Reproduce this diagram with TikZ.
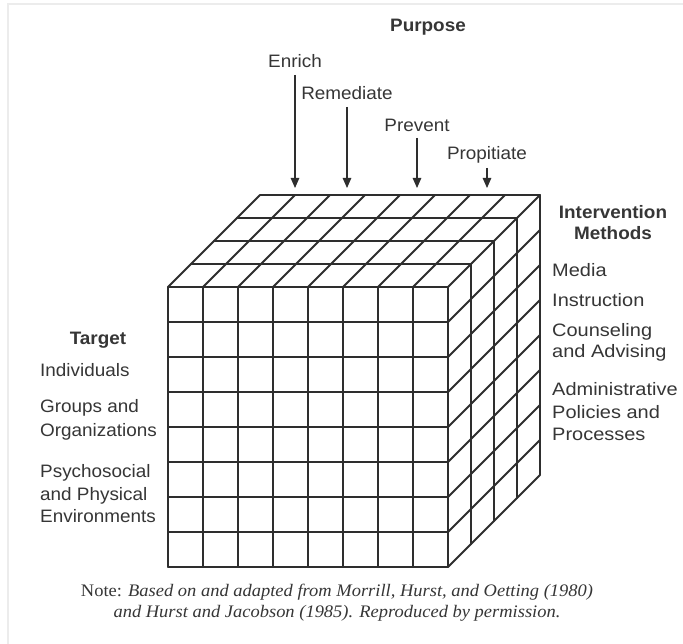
\documentclass[tikz,border=0pt]{standalone}
\usepackage{fontspec}
\setmainfont{Liberation Sans}[FakeStretch=1.05]
\newfontfamily\widesans{Liberation Sans}[FakeStretch=1.11]
\newfontfamily\notefont{Liberation Serif}[FakeStretch=1.05]
\usetikzlibrary{arrows.meta}
\definecolor{ink}{HTML}{2E2E2E}
\definecolor{txt}{HTML}{363636}
\definecolor{frame}{HTML}{ECECEC}
\tikzset{
  gridline/.style={draw=ink, line width=1.8pt, line cap=round, line join=round},
  lbl/.style={text=txt, font=\fontsize{18}{22.5}\selectfont, inner sep=1pt},
  lblL/.style={lbl, anchor=west, align=left},
  lblR/.style={lblL, font=\widesans\fontsize{18}{22}\selectfont},
  head/.style={lbl, font=\fontsize{18}{21}\selectfont\bfseries, align=center},
  purparrow/.style={draw=ink, line width=1.1pt, -{Triangle[length=10pt,width=8.5pt]}},
  notetext/.style={text=txt, font=\notefont\fontsize{17.6}{20.5}\selectfont, align=center, inner sep=0pt}
}
\begin{document}
\begin{tikzpicture}[x=1pt,y=-1pt]
\useasboundingbox (0,0) rectangle (683,644);
\fill[white] (0,0) rectangle (683,644);
% faint frame of the scan
\draw[frame, line width=2.5pt] (8,644) -- (8,4) -- (683,4);

% cube geometry
\def\cx{168}\def\cy{287}\def\cs{35}\def\dd{23}
% front face
\foreach \i in {0,...,8} {
  \draw[gridline] ({\cx+\cs*\i},\cy) -- ({\cx+\cs*\i},{\cy+8*\cs});
  \draw[gridline] (\cx,{\cy+\cs*\i}) -- ({\cx+8*\cs},{\cy+\cs*\i});
}
% top face
\foreach \k in {1,...,4} {
  \draw[gridline] ({\cx+\dd*\k},{\cy-\dd*\k}) -- ({\cx+8*\cs+\dd*\k},{\cy-\dd*\k});
}
\foreach \i in {0,...,8} {
  \draw[gridline] ({\cx+\cs*\i},\cy) -- ({\cx+\cs*\i+4*\dd},{\cy-4*\dd});
}
% right face
\foreach \k in {1,...,4} {
  \draw[gridline] ({\cx+8*\cs+\dd*\k},{\cy-\dd*\k}) -- ({\cx+8*\cs+\dd*\k},{\cy+8*\cs-\dd*\k});
}
\foreach \j in {1,...,8} {
  \draw[gridline] ({\cx+8*\cs},{\cy+\cs*\j}) -- ({\cx+8*\cs+4*\dd},{\cy+\cs*\j-4*\dd});
}

% Purpose
\node[head] (purpose) at (428,27) {Purpose};
\node[lbl] (enrich) at (295,61) {Enrich};
\node[lbl] (remed) at (347,93) {Remediate};
\node[lbl] (prevent) at (417,125) {Prevent};
\node[lbl] (propit) at (487,155) {Propitiate};
\coordinate (tEnrich) at (295,188);
\coordinate (tRemed) at (347,188);
\coordinate (tPrevent) at (417,188);
\coordinate (tPropit) at (487,188);
\draw[purparrow] (295,75) -- (tEnrich);
\draw[purparrow] (347,107) -- (tRemed);
\draw[purparrow] (417,138) -- (tPrevent);
\draw[purparrow] (487,168) -- (tPropit);

% Target
\node[head] (target) at (98,340) {Target};
\node[lblL] (indiv) at (39,370) {Individuals};
\node[lblL, font=\fontsize{18}{24}\selectfont] (groups) at (39,420) {Groups and\\Organizations};
\node[lblL] (psycho) at (39,494) {Psychosocial\\and Physical\\Environments};

% Intervention Methods
\node[head] (methods) at (613,222.5) {Intervention\\Methods};
\node[lblR] (media) at (551,270) {Media};
\node[lblR] (instr) at (551,300) {Instruction};
\node[lblR, font=\widesans\fontsize{18}{21.5}\selectfont] (couns) at (551,342.5) {Counseling\\and Advising};
\node[lblR, font=\widesans\fontsize{18}{22.5}\selectfont] (admin) at (551,412) {Administrative\\Policies and\\Processes};

% Note
\node[notetext] (note) at (337,602.5) {Note: \textit{Based on and adapted from Morrill, Hurst, and Oetting (1980)}\\\textit{and Hurst and Jacobson (1985). Reproduced by permission.}};
\end{tikzpicture}
\end{document}
